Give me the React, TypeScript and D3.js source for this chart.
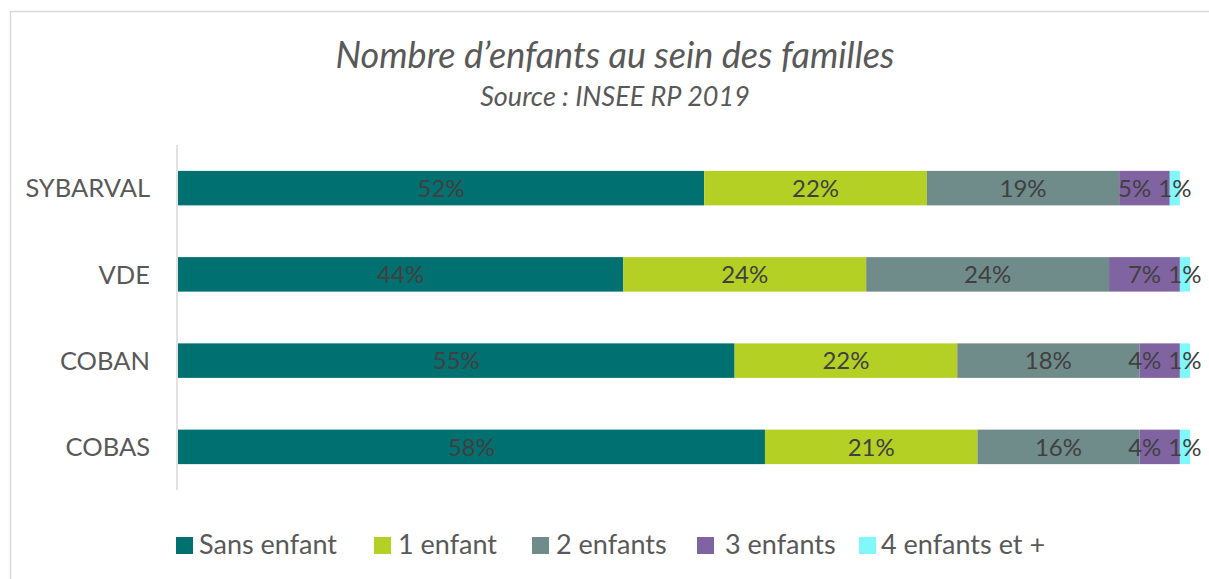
import React, { useRef, useEffect } from 'react';
import * as d3 from 'd3';

const categories = ['SYBARVAL', 'VDE', 'COBAN', 'COBAS'];
const seriesNames = ['Sans enfant', '1 enfant', '2 enfants', '3 enfants', '4 enfants et +'];
const sansEnfant = [52, 44, 55, 58];
const unEnfant = [22, 24, 22, 21];
const deuxEnfants = [19, 24, 18, 16];
const troisEnfants = [5, 7, 4, 4];
const quatreEnfants = [1, 1, 1, 1];
const colors = ['#007070', '#B5D024', '#6F8C8A', '#8064A2', '#7FF7FB'];

const FONT = 'Lato, "Open Sans", sans-serif';

const App = () => {
  const svgRef = useRef<SVGSVGElement>(null);

  useEffect(() => {
    const width = 1209;
    const height = 579;
    const svg = d3.select(svgRef.current);
    svg.selectAll('*').remove();
    svg.attr('width', width).attr('height', height)
      .style('position', 'absolute').style('left', '0px').style('top', '0px');

    svg.append('rect')
      .attr('x', 10.5).attr('y', 11.5)
      .attr('width', width + 20).attr('height', height + 20)
      .attr('fill', 'white').attr('stroke', '#D9D9D9').attr('stroke-width', 1.5);

    const series = [sansEnfant, unEnfant, deuxEnfants, troisEnfants, quatreEnfants];
    const rows = categories.map((c, i) => {
      const row: any = { cat: c };
      seriesNames.forEach((s, j) => { row[s] = series[j][i]; });
      return row;
    });
    const stacked = d3.stack().keys(seriesNames)(rows);

    const x = d3.scaleLinear().domain([0, 100]).range([178, 1190]);
    const y = d3.scaleBand().domain(categories).range([145, 490]).paddingInner(0.6).paddingOuter(0.3);

    // title
    svg.append('text')
      .attr('x', 615).attr('y', 68)
      .attr('text-anchor', 'middle')
      .attr('font-family', FONT).attr('font-style', 'italic')
      .attr('font-size', 36).attr('fill', '#595959')
      .text('Nombre d\u2019enfants au sein des familles');
    svg.append('text')
      .attr('x', 615).attr('y', 106)
      .attr('text-anchor', 'middle')
      .attr('font-family', FONT).attr('font-style', 'italic')
      .attr('font-size', 27).attr('fill', '#595959')
      .text('Source : INSEE RP 2019');

    // axis line
    svg.append('line')
      .attr('x1', 177).attr('x2', 177).attr('y1', 145).attr('y2', 490)
      .attr('stroke', '#D9D9D9').attr('stroke-width', 1.5);

    // category labels
    svg.append('g').selectAll('text')
      .data(categories).enter().append('text')
      .attr('x', 150)
      .attr('y', d => (y(d) as number) + y.bandwidth() / 2)
      .attr('dy', '0.36em')
      .attr('text-anchor', 'end')
      .attr('font-family', FONT).attr('font-size', 25.5).attr('fill', '#595959')
      .text(d => d);

    const layers = svg.append('g').selectAll('g')
      .data(stacked).enter().append('g')
      .attr('fill', (d, i) => colors[i]);

    layers.selectAll('rect')
      .data(d => d).enter().append('rect')
      .attr('x', d => x(d[0]))
      .attr('y', d => y((d as any).data.cat) as number)
      .attr('width', d => x(d[1]) - x(d[0]))
      .attr('height', y.bandwidth());

    // data labels, one row at a time so small segments can be nudged apart
    const labelG = svg.append('g');
    categories.forEach((cat, ci) => {
      const texts = stacked.map(s => {
        const p = s[ci];
        return labelG.append('text')
          .attr('x', (x(p[0]) + x(p[1])) / 2)
          .attr('y', (y(cat) as number) + y.bandwidth() / 2)
          .attr('dy', '0.36em')
          .attr('text-anchor', 'middle')
          .attr('font-family', FONT).attr('font-size', 24).attr('fill', '#404040')
          .text(`${p[1] - p[0]}%`);
      });
      const w = texts.map(t => (t.node() as SVGTextElement).getComputedTextLength());
      const cx = texts.map(t => +t.attr('x'));
      for (let i = texts.length - 2; i >= 0; i--) {
        const maxCx = cx[i + 1] - w[i + 1] / 2 - 7 - w[i] / 2;
        if (cx[i] > maxCx) {
          cx[i] = maxCx;
          texts[i].attr('x', cx[i]);
        }
      }
    });

    // legend
    const legendX = [176, 374, 532, 697, 859];
    const textOffset = [23, 24, 24, 28, 22];
    const legend = svg.append('g').selectAll('g')
      .data(seriesNames).enter().append('g')
      .attr('transform', (d, i) => `translate(${legendX[i]},537)`);
    legend.append('rect')
      .attr('width', 17).attr('height', 17)
      .attr('fill', (d, i) => colors[i]);
    legend.append('text')
      .attr('x', (d, i) => textOffset[i]).attr('y', 17)
      .attr('font-family', FONT).attr('font-size', 27).attr('fill', '#595959')
      .text(d => d);
  }, []);

  return <svg ref={svgRef}></svg>;
};

export default App;
